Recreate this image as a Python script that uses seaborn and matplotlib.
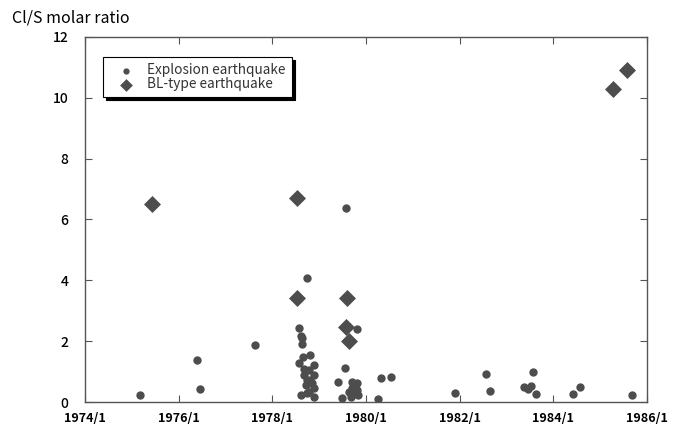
import matplotlib
matplotlib.use("Agg")
import matplotlib.pyplot as plt
import seaborn as sns
import pandas as pd

# Explosion earthquakes: decimal year, Cl/S molar ratio
exp_year = [1975.18, 1976.40, 1976.46, 1977.64, 1978.75, 1978.56, 1978.61, 1978.64,
            1978.64, 1978.81, 1978.66, 1978.56, 1978.88, 1978.67, 1978.78, 1978.67,
            1978.88, 1978.74, 1978.85, 1978.71, 1978.88, 1978.78, 1978.61, 1978.88,
            1978.74, 1978.81, 1979.58, 1979.80, 1979.56, 1979.41, 1979.70, 1979.80,
            1979.70, 1979.80, 1979.63, 1979.74, 1979.83, 1979.49, 1979.69, 1980.25,
            1980.33, 1980.54, 1981.89, 1982.56, 1982.64, 1983.38, 1983.46, 1983.53,
            1983.57, 1983.64, 1984.42, 1984.56, 1985.69]
exp_ratio = [0.23, 1.38, 0.43, 1.87, 4.08, 2.42, 2.17, 2.09,
             1.90, 1.55, 1.49, 1.27, 1.22, 1.10, 1.05, 0.89,
             0.89, 0.72, 0.61, 0.56, 0.45, 0.34, 0.23, 0.17,
             0.29, 0.72, 6.39, 2.40, 1.13, 0.67, 0.67, 0.63,
             0.45, 0.39, 0.34, 0.29, 0.23, 0.12, 0.17, 0.10,
             0.78, 0.83, 0.31, 0.91, 0.36, 0.48, 0.43, 0.53,
             0.99, 0.25, 0.27, 0.49, 0.22]

# BL-type earthquakes
bl_year = [1975.43, 1978.53, 1978.53, 1979.60, 1979.58, 1979.63, 1985.27, 1985.57]
bl_ratio = [6.5, 6.7, 3.42, 3.42, 2.47, 2.0, 10.3, 10.9]

x_ticks = [1974, 1976, 1978, 1980, 1982, 1984, 1986]
x_labels = ["1974/1", "1976/1", "1978/1", "1980/1", "1982/1", "1984/1", "1986/1"]
y_ticks = [0, 2, 4, 6, 8, 10, 12]

df_exp = pd.DataFrame({"year": exp_year, "ratio": exp_ratio})
df_bl = pd.DataFrame({"year": bl_year, "ratio": bl_ratio})

sns.set_style("white")
plt.rcParams["font.family"] = ["Noto Sans CJK JP", "DejaVu Sans"]

fig = plt.figure(figsize=(6.79, 4.26), dpi=100)
ax = fig.add_axes([85 / 679, 1 - 402 / 426, (647 - 85) / 679, (402 - 37) / 426])

col = "#4d4d4d"
sns.scatterplot(data=df_exp, x="year", y="ratio", ax=ax, marker="o", s=36,
                color=col, edgecolor=col, linewidth=0, label="Explosion earthquake")
sns.scatterplot(data=df_bl, x="year", y="ratio", ax=ax, marker="D", s=75,
                color=col, edgecolor=col, linewidth=0, label="BL-type earthquake")

ax.set_xlim(1974, 1986)
ax.set_ylim(0, 12)
ax.set_xticks(x_ticks)
ax.set_xticklabels(x_labels)
ax.set_yticks(y_ticks)
ax.set_xlabel("")
ax.set_ylabel("")

for s in ax.spines.values():
    s.set_color("#555555")
    s.set_linewidth(1.0)
    s.set_visible(True)

ax.tick_params(axis="both", direction="in", length=5, width=0.8, color="#555555",
               top=True, right=True, bottom=True, left=True,
               labelcolor="black")
ax.tick_params(axis="x", labelsize=9, pad=7)
ax.tick_params(axis="y", labelsize=10, pad=12)
for lab in ax.get_xticklabels():
    lab.set_fontweight("bold")
for lab in ax.get_yticklabels():
    lab.set_fontweight("medium")

fig.text(12 / 679, 1 - 18 / 426, "Cl/S molar ratio", fontsize=11.5, va="center",
         ha="left", color="black")

leg = ax.legend(loc="upper left", bbox_to_anchor=(0.032, 0.945), frameon=True,
                fancybox=False,
                shadow={"color": "black", "alpha": 1.0, "ox": 2, "oy": -2},
                edgecolor="black", fontsize=9.8,
                handletextpad=0.3, borderpad=0.45, labelspacing=0.0,
                handlelength=2.5, borderaxespad=0, markerscale=0.75)
leg.get_frame().set_linewidth(0.8)
for t in leg.get_texts():
    t.set_color("#333333")

fig.savefig("out.png", dpi=100)
